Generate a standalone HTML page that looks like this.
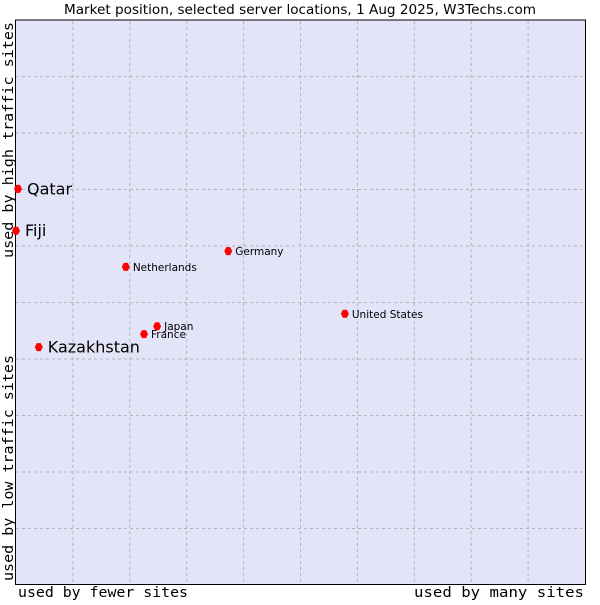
<!DOCTYPE html>
<html><head><meta charset="utf-8"><style>
body{margin:0;background:#fff;width:600px;height:600px;overflow:hidden}
svg text{font-family:"DejaVu Sans","Liberation Sans",sans-serif}
.mono{font-family:"DejaVu Sans Mono","Liberation Mono",monospace}
</style></head><body>
<svg id="c" width="600" height="600">
<text x="64" y="14" textLength="472" lengthAdjust="spacingAndGlyphs" font-size="13">Market position, selected server locations, 1 Aug 2025, W3Techs.com</text>
<rect x="15.5" y="20" width="570" height="564.5" fill="#e3e4f8" stroke="#000"/>
<g id="grid"></g>
<g id="pts"></g>
<text class="mono" x="18" y="597" font-size="14" textLength="170" lengthAdjust="spacingAndGlyphs">used by fewer sites</text>
<text class="mono" x="414" y="597" font-size="14" textLength="170" lengthAdjust="spacingAndGlyphs">used by many sites</text>
<text class="mono" transform="translate(13,258) rotate(-90)" font-size="14" textLength="236" lengthAdjust="spacingAndGlyphs">used by high traffic sites</text>
<text class="mono" transform="translate(13,581) rotate(-90)" font-size="14" textLength="226" lengthAdjust="spacingAndGlyphs">used by low traffic sites</text>
</svg>
<script>
const countries=["Qatar","Fiji","Kazakhstan","Netherlands","Germany","United States","Japan","France"];
const xVals=[0.35,0,4.0,19.3,37.3,57.8,24.8,22.5];
const yVals=[70.1,62.7,42.1,56.3,59.1,48.0,45.8,44.4];
const bigLabel=[true,true,true,false,false,false,false,false];
const X0=16,X1=585,Y0=585,Y1=20;
const sx=v=>X0+v/100*(X1-X0);
const sy=v=>Y0-v/100*(Y0-Y1);
const NS="http://www.w3.org/2000/svg";
const g=document.getElementById('grid');
for(let i=1;i<10;i++){
  const l=document.createElementNS(NS,'line');
  const x=sx(i*10);
  l.setAttribute('x1',x);l.setAttribute('x2',x);l.setAttribute('y1',21);l.setAttribute('y2',584);
  l.setAttribute('stroke','#b4b4b4');l.setAttribute('stroke-dasharray','3,3');
  
  
  g.appendChild(l);
  const h=document.createElementNS(NS,'line');
  const y=sy(i*10);
  h.setAttribute('x1',16);h.setAttribute('x2',585);h.setAttribute('y1',y);h.setAttribute('y2',y);
  h.setAttribute('stroke','#b4b4b4');h.setAttribute('stroke-dasharray','3,3');
  
  
  g.appendChild(h);
}
const p=document.getElementById('pts');
countries.forEach((c,i)=>{
  const x=sx(xVals[i]),y=sy(yVals[i]);
  const d=document.createElementNS(NS,'path');
  d.setAttribute('d',`M${x-4},${y}L${x-2},${y-4}L${x+2},${y-4}L${x+4},${y}L${x+2},${y+4}L${x-2},${y+4}Z`);
  d.setAttribute('fill','#f00');
  
  
  p.appendChild(d);
  const t=document.createElementNS(NS,'text');
  t.textContent=c;
  t.setAttribute('x',x+(bigLabel[i]?9:7));
  t.setAttribute('y',y+(bigLabel[i]?5.5:4));
  t.setAttribute('font-size',bigLabel[i]?16:10.5);
  t.setAttribute('fill','#000');
  
  
  p.appendChild(t);
});
</script>
</body></html>
